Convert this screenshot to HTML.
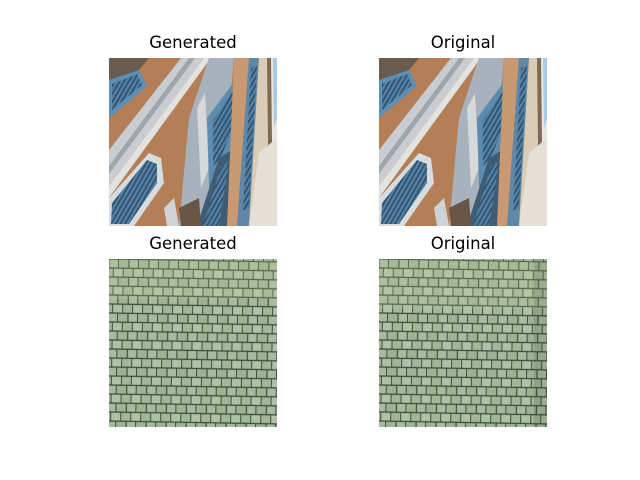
<!DOCTYPE html>
<html><head><meta charset="utf-8"><style>
html,body{margin:0;padding:0;background:#fff;}
#fig{position:relative;width:640px;height:480px;overflow:hidden;font-family:"DejaVu Sans","Liberation Sans",sans-serif;}
.t{position:absolute;width:168px;text-align:center;font-size:16.5px;color:#000;}
.im{position:absolute;width:168px;height:168px;}
</style></head><body>
<div id="fig">
<div class="t" style="left:109px;top:33px">Generated</div>
<div class="t" style="left:379px;top:33px">Original</div>
<div class="t" style="left:109px;top:234px">Generated</div>
<div class="t" style="left:379px;top:234px">Original</div>

<svg width="0" height="0" style="position:absolute">
<defs>
<pattern id="shut" width="4" height="4" patternUnits="userSpaceOnUse" patternTransform="rotate(-60)">
<rect width="4" height="4" fill="#4f7fa3"/><rect width="4" height="1.5" fill="#2f4e66"/>
</pattern>
<g id="facade">
<rect width="168" height="168" fill="#b47e57"/>
<polygon points="0,0 40,0 30,12 0,30" fill="#6b5a4e"/>
<polygon points="0,22 30,12 38,28 0,60" fill="#5b8fb8"/>
<polygon points="3,26 28,16 33,27 3,52" fill="url(#shut)"/>
<polygon points="0,92 72,0 95,0 0,128" fill="#c9ccd0"/>
<polygon points="0,108 80,0 86,0 0,116" fill="#9fa6ad"/>
<polygon points="0,128 95,0 102,0 0,140" fill="#e2e2e0"/>
<polygon points="0,140 102,0 110,0 80,168 0,168" fill="#b47e57"/>
<polygon points="0,168 0,140 40,95 52,100 55,125 25,168" fill="#d8dcdf"/>
<polygon points="2,166 3,145 38,102 48,106 48,125 20,166" fill="url(#shut)"/>
<polygon points="55,150 65,140 70,168 58,168" fill="#cfd3d6"/>
<polygon points="100,0 125,0 110,168 70,168 80,60" fill="#a8b2bc"/>
<polygon points="88,50 96,35 100,110 92,130" fill="#d6d8da"/>
<polygon points="98,60 128,20 140,40 110,120 100,130" fill="#5e8cb0"/>
<polygon points="104,62 126,30 134,42 112,100 104,108" fill="url(#shut)"/>
<polygon points="88,168 110,100 126,90 118,168" fill="#3f5c73"/>
<polygon points="94,168 112,108 120,104 110,168" fill="url(#shut)"/>
<polygon points="125,0 140,0 128,168 118,168" fill="#c99a72"/>
<polygon points="140,0 150,0 140,168 128,168" fill="#5f88a8"/>
<polygon points="142,10 148,8 140,150 134,152" fill="url(#shut)"/>
<polygon points="150,0 160,0 160,168 140,168" fill="#d9cdb6"/>
<polygon points="158,0 162,0 164,168 160,168" fill="#7e6a52"/>
<polygon points="162,0 168,0 168,168 164,168" fill="#e9e6e0"/>
<polygon points="164,0 168,0 168,60 165,70" fill="#a9cbe8"/>
<polygon points="150,95 168,80 168,168 140,168" fill="#e4e0d8"/>
<polygon points="70,150 90,140 92,168 72,168" fill="#6a5646"/>
</g>
<pattern id="stones" width="20" height="18" patternUnits="userSpaceOnUse" patternTransform="rotate(1)">
<rect width="20" height="18" fill="#3d4f38"/>
<rect x="0.6" y="0.6" width="8.4" height="7.7" fill="#a8bba0"/>
<rect x="10" y="0.6" width="9.4" height="7.7" fill="#9db394"/>
<rect x="-4.4" y="9.6" width="8.4" height="7.7" fill="#a2b69a"/>
<rect x="5" y="9.6" width="9" height="7.7" fill="#afc1a6"/>
<rect x="15" y="9.6" width="8.4" height="7.7" fill="#a2b69a"/>
</pattern>
</defs>
</svg>

<svg class="im" style="left:109px;top:58px" viewBox="0 0 168 168"><use href="#facade"/></svg>
<svg class="im" style="left:379px;top:58px" viewBox="0 0 168 168"><use href="#facade"/></svg>
<svg class="im" style="left:109px;top:259px" viewBox="0 0 168 168">
<rect width="168" height="168" fill="url(#stones)"/>
<rect width="168" height="40" fill="#c8d0a0" opacity="0.2"/>
</svg>
<svg class="im" style="left:379px;top:259px" viewBox="0 0 168 168">
<rect x="-10" y="-10" width="190" height="190" fill="url(#stones)"/>
<rect width="168" height="50" fill="#c8d0a0" opacity="0.2"/>
<rect x="155" width="13" height="168" fill="#2e3a28" opacity="0.15"/>
</svg>
</div>
</body></html>
